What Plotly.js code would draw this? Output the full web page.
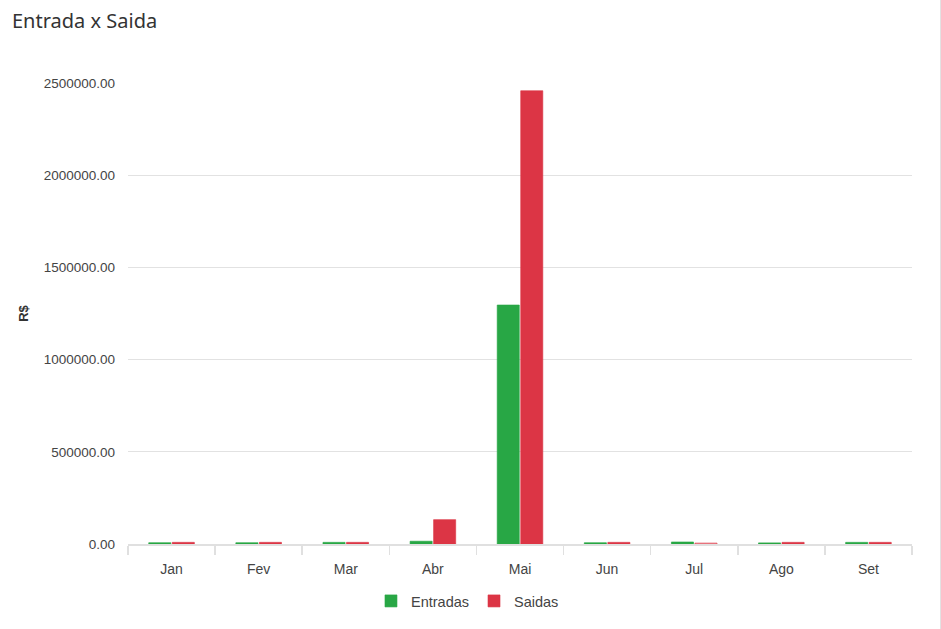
<!DOCTYPE html>
<html>
<head>
<meta charset="utf-8">
<script src="https://cdn.plot.ly/plotly-3.0.1.min.js"></script>
<style>
html,body{margin:0;padding:0;background:#fff;}
#chart{width:940px;height:629px;border-right:1px solid #e2e2e2;}
</style>
</head>
<body>
<div id="chart"></div>
<script>
const months = ["Jan","Fev","Mar","Abr","Mai","Jun","Jul","Ago","Set"];
const entradas = [7000, 7000, 9000, 15000, 1296000, 7000, 11000, 6000, 9000];
const saidas = [9000, 9000, 9000, 132000, 2458000, 9000, 5000, 9000, 9000];
const yTicks = [0, 500000, 1000000, 1500000, 2000000, 2500000];

const green = "#28a745";
const red = "#dc3545";
const saidaColors = months.map(m => m === "Jul" ? "#f3b7bd" : red);

const traces = [
  {type:"bar", name:"Entradas", x:months, y:entradas,
   marker:{color:green, line:{color:"rgba(40,167,69,0.6)", width:1}}, hoverinfo:"none"},
  {type:"bar", name:"Saidas", x:months, y:saidas,
   marker:{color:saidaColors, line:{color:"rgba(220,53,69,0.6)", width:1}}, hoverinfo:"none"}
];

const layout = {
  width:940, height:629,
  paper_bgcolor:"#fff", plot_bgcolor:"#fff",
  margin:{l:128, r:28, t:83, b:85, autoexpand:false},
  title:{text:"Entrada x Saida", x:12/940, xref:"container", xanchor:"left", y:1-21/629, yref:"container", yanchor:"middle",
         font:{family:"Noto Sans, Open Sans, sans-serif", size:20, color:"#333"}},
  barmode:"group", bargap:0.46, bargroupgap:0.06,
  xaxis:{
    type:"category", tickson:"boundaries", ticks:"outside", ticklen:9, tickwidth:1.5, tickcolor:"#e0e0e0",
    showline:true, linecolor:"#e0e0e0", linewidth:2, showgrid:false, zeroline:false,
    ticklabelstandoff:11, automargin:false,
    tickfont:{family:"Liberation Sans, Arial, sans-serif", size:14, color:"#444"}
  },
  yaxis:{
    range:[0, 2500000], tickvals:yTicks, tickformat:".2f", automargin:false,
    showgrid:true, gridcolor:"#e2e2e2", gridwidth:1, zeroline:false, showline:false,
    ticks:"", ticklabelstandoff:12,
    tickfont:{family:"Liberation Sans, Arial, sans-serif", size:13.5, color:"#444"},
    title:{text:"R$", standoff:12, font:{family:"Liberation Sans, Arial, sans-serif", size:13, color:"#333", weight:"bold"}}
  },
  legend:{orientation:"h", x:0.433, xanchor:"center", y:1-601/629, yref:"container", yanchor:"middle",
          font:{family:"Liberation Sans, Arial, sans-serif", size:14.5, color:"#444"}},
  showlegend:true
};
Plotly.newPlot("chart", traces, layout, {displayModeBar:false, staticPlot:true});
</script>
</body>
</html>
